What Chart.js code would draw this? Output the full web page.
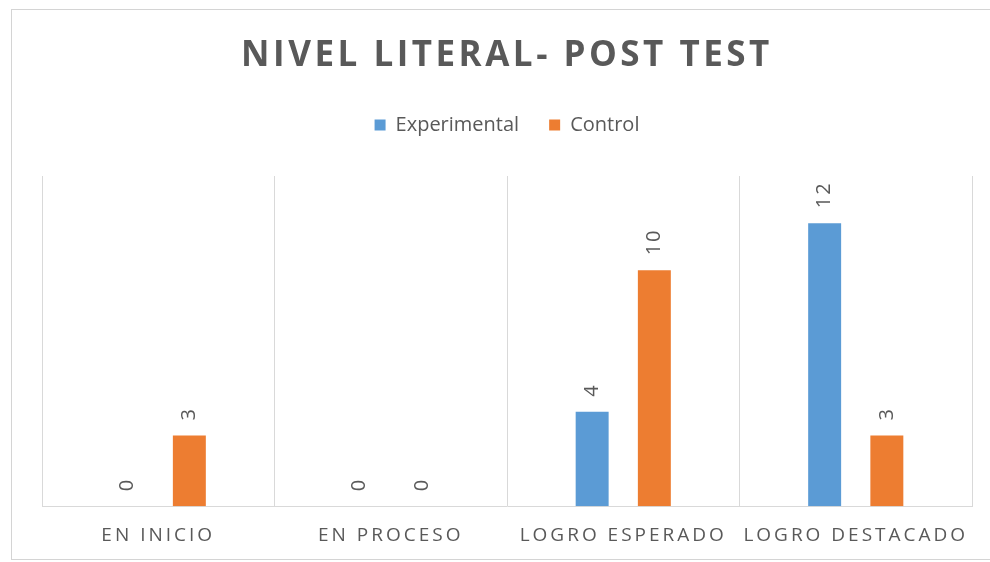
<!DOCTYPE html>
<html>
<head>
<meta charset="utf-8">
<script src="https://cdn.jsdelivr.net/npm/chart.js@4.4.0/dist/chart.umd.min.js"></script>
<style>
    body { margin: 0; background: #fff; }
    #marco { position: relative; width: 990px; height: 562px; overflow: hidden; }
    #borde { position: absolute; left: 11px; top: 9px; width: 990px; height: 549px; border: 1px solid #d4d4d4; }
    canvas { position: absolute; left: 0; top: 0; }
</style>
</head>
<body>
<div id="marco">
    <div id="borde"></div>
    <canvas id="graficoNivel" width="990" height="562"></canvas>
</div>
<script>
const categorias = ['EN INICIO', 'EN PROCESO', 'LOGRO ESPERADO', 'LOGRO DESTACADO'];
const experimental = [0, 0, 4, 12];
const control = [3, 0, 10, 3];

const gris = '#595959';

// envuelve un metodo de dibujo para aplicar espaciado entre letras
function conEspaciado(obj, metodo, espacio) {
    const original = obj[metodo];
    obj[metodo] = function () {
        this.ctx.save();
        this.ctx.letterSpacing = espacio;
        original.apply(this, arguments);
        this.ctx.restore();
    };
}

const espaciado = {
    id: 'espaciado',
    afterInit(chart) {
        conEspaciado(chart.titleBlock, 'draw', '3.5px');
        const fitLeyenda = chart.legend.fit;
        chart.legend.fit = function () {
            fitLeyenda.call(this);
            this.height += 31;
        };
    },
    beforeDraw(chart) {
        const x = chart.scales.x;
        if (!x._espaciado) {
            conEspaciado(x, 'drawLabels', '3px');
            x._espaciado = true;
        }
    }
};

// valores encima de cada barra, girados
const etiquetasBarras = {
    id: 'etiquetasBarras',
    afterDatasetsDraw(chart) {
        const ctx = chart.ctx;
        ctx.save();
        ctx.font = '20px "Open Sans"';
        ctx.fillStyle = gris;
        ctx.letterSpacing = '2px';
        ctx.textAlign = 'left';
        ctx.textBaseline = 'middle';
        chart.data.datasets.forEach((ds, i) => {
            chart.getDatasetMeta(i).data.forEach((barra, j) => {
                ctx.save();
                ctx.translate(barra.x, barra.y - 15);
                ctx.rotate(-Math.PI / 2);
                ctx.fillText(ds.data[j], 0, 0);
                ctx.restore();
            });
        });
        ctx.restore();
    }
};

const ctxNivel = document.getElementById('graficoNivel');
const dataNivel = {
    labels: categorias,
    datasets: [{
        label: 'Experimental',
        data: experimental,
        backgroundColor: '#5B9BD5',
        barPercentage: 0.53,
        categoryPercentage: 0.535
    }, {
        label: 'Control',
        data: control,
        backgroundColor: '#ED7D31',
        barPercentage: 0.53,
        categoryPercentage: 0.535
    }]
};
const configNivel = {
    type: 'bar',
    data: dataNivel,
    options: {
        responsive: false,
        animation: false,
        layout: {
            padding: { left: 42, right: 18, top: 0, bottom: -2 }
        },
        scales: {
            x: {
                grid: { color: '#d9d9d9', drawTicks: false, offset: true },
                border: { display: true, color: '#d9d9d9' },
                ticks: {
                    color: gris,
                    font: { family: '"Open Sans"', size: 19 },
                    padding: 17.5,
                    maxRotation: 0,
                    autoSkip: false
                }
            },
            y: {
                display: false,
                min: 0,
                max: 14
            }
        },
        plugins: {
            title: {
                display: true,
                text: 'NIVEL LITERAL- POST TEST',
                color: gris,
                font: { family: '"Open Sans"', size: 35, weight: 'bold' },
                padding: { top: 35, bottom: 8 }
            },
            legend: {
                position: 'top',
                labels: {
                    color: gris,
                    font: { family: '"Open Sans"', size: 20 },
                    boxWidth: 11,
                    boxHeight: 11,
                    padding: 30
                }
            },
            tooltip: { enabled: false }
        }
    },
    plugins: [espaciado, etiquetasBarras]
};

new Chart(ctxNivel, configNivel);
</script>
</body>
</html>
